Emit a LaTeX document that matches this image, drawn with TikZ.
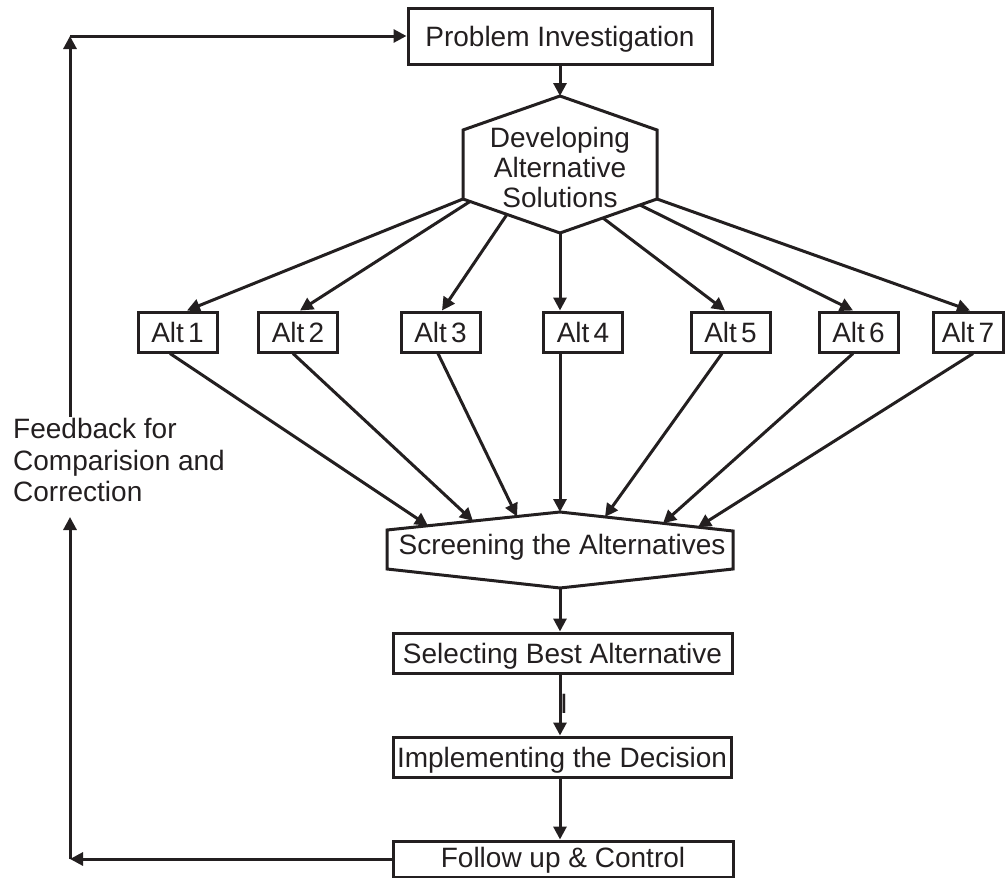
\documentclass[tikz,border=0pt]{standalone}
\usepackage{fontspec}
\setmainfont{Liberation Sans}
\usetikzlibrary{arrows.meta,calc}
\definecolor{ink}{RGB}{35,31,32}
\begin{document}
\begin{tikzpicture}[x=1pt,y=-1pt,
  arrow/.style={draw=ink, line width=3pt, -{Triangle[length=13pt,width=13pt]}},
  outline/.style={draw=ink, line width=3pt},
  flowbox/.style={draw=ink, line width=3pt, inner sep=0pt, text=ink,
    text height=20pt, text depth=0pt, font=\fontsize{28}{32}\selectfont},
  altbox/.style={flowbox, minimum width=79pt, minimum height=40pt},
  txt/.style={inner sep=0pt, text=ink},
]
\useasboundingbox (0,0) rectangle (1005,878);

% top box
\node[flowbox, minimum width=304pt, minimum height=56pt] (pi) at (560,36) {Problem Investigation};

% hexagon with its caption
\node[txt, align=center, font=\fontsize{28}{30}\selectfont] (dev) at (560,167.5)
  {Developing\\Alternative\\Solutions};
\coordinate (d-t)  at (560,96);
\coordinate (d-ur) at (657,130);
\coordinate (d-lr) at (657,199);
\coordinate (d-b)  at (560,233);
\coordinate (d-ll) at (463,199);
\coordinate (d-ul) at (463,130);
\draw[outline] (d-t) -- (d-ur) -- (d-lr) -- (d-b) -- (d-ll) -- (d-ul) -- cycle;
\draw[arrow] (pi.south) -- (d-t);

% the seven alternatives
\foreach \i/\x in {1/177.5,2/298,3/440.5,4/583,5/730.5,6/858.5}
  \node[altbox] (a\i) at (\x,332) {Alt\kern0.15em\i};
\node[altbox, minimum width=70pt] (a7) at (968,332) {Alt\kern0.15em 7};

% start points on the lower edges of the hexagon
\coordinate (h2) at (470,201.5);
\coordinate (h3) at (507,214.4);
\coordinate (h5) at (603,218);
\coordinate (h6) at (640,205);
\draw[arrow] (d-ll) -- ([xshift=9.5pt]a1.north);
\draw[arrow] (h2)   -- ([xshift=2pt]a2.north);
\draw[arrow] (h3)   -- ([xshift=1.5pt]a3.north);
\draw[arrow] (d-b)  -- ([xshift=-23pt]a4.north);
\draw[arrow] (h5)   -- ([xshift=-5.5pt]a5.north);
\draw[arrow] (h6)   -- ([xshift=-5.5pt]a6.north);
\draw[arrow] (d-lr) -- ([xshift=2pt]a7.north);

% screening shape with its caption
\node[txt, text height=20pt, text depth=0pt, font=\fontsize{28}{32}\selectfont]
  (scr) at (562,544) {Screening the Alternatives};
\coordinate (s-t)  at (560,512);
\coordinate (s-ur) at (733,531);
\coordinate (s-lr) at (733,569);
\coordinate (s-b)  at (560,588);
\coordinate (s-ll) at (387,569);
\coordinate (s-ul) at (387,530);
\draw[outline] (s-t) -- (s-ur) -- (s-lr) -- (s-b) -- (s-ll) -- (s-ul) -- cycle;

% end points on the upper edges of the screening shape
\coordinate (s1) at (428,525.7);
\coordinate (s2) at (473,521);
\coordinate (s3) at (517,516.5);
\coordinate (s5) at (605,516.9);
\coordinate (s6) at (663,523.3);
\coordinate (s7) at (698,527.2);
\draw[arrow] ([xshift=-7.5pt]a1.south) -- (s1);
\draw[arrow] ([xshift=-5pt]a2.south)   -- (s2);
\draw[arrow] ([xshift=-2.5pt]a3.south) -- (s3);
\draw[arrow] ([xshift=-23pt]a4.south)  -- (s-t);
\draw[arrow] ([xshift=-8.5pt]a5.south) -- (s5);
\draw[arrow] ([xshift=-5.5pt]a6.south) -- (s6);
\draw[arrow] ([xshift=5pt]a7.south)    -- (s7);

% lower chain
\node[flowbox, minimum width=339pt, minimum height=40pt] (sel) at (562.5,653) {Selecting Best Alternative};
\node[flowbox, minimum width=338pt, minimum height=40pt] (imp) at (562,757) {Implementing the Decision};
\node[flowbox, minimum width=340pt, minimum height=36pt, text depth=4pt] (fol) at (563,859) {Follow up \& Control};
\node[txt, text height=20pt, text depth=0pt, font=\fontsize{28}{30}\selectfont] (mark) at (564,703) {I};

\draw[arrow] (s-b) -- (s-b |- sel.north);
\draw[arrow] (sel.south -| s-b) -- (imp.north -| s-b);
\draw[arrow] (imp.south -| s-b) -- (fol.north -| s-b);

% feedback loop
\node[txt, align=left, anchor=north west, font=\fontsize{28}{31.5}\selectfont] (fb) at (13,418.5)
  {Feedback for\\Comparision and\\Correction};
\coordinate (fb-bl)  at (70,859);
\coordinate (fb-low) at (70,517);
\coordinate (fb-top) at (70,417);
\coordinate (fb-tl)  at (70,36);
\draw[arrow] (fol.west) -- (fb-bl);
\draw[arrow] (fb-bl) -- (fb-low);
\draw[arrow] (fb-top) -- (fb-tl);
\draw[arrow] (fb-tl) -- (pi.west);
\end{tikzpicture}
\end{document}
